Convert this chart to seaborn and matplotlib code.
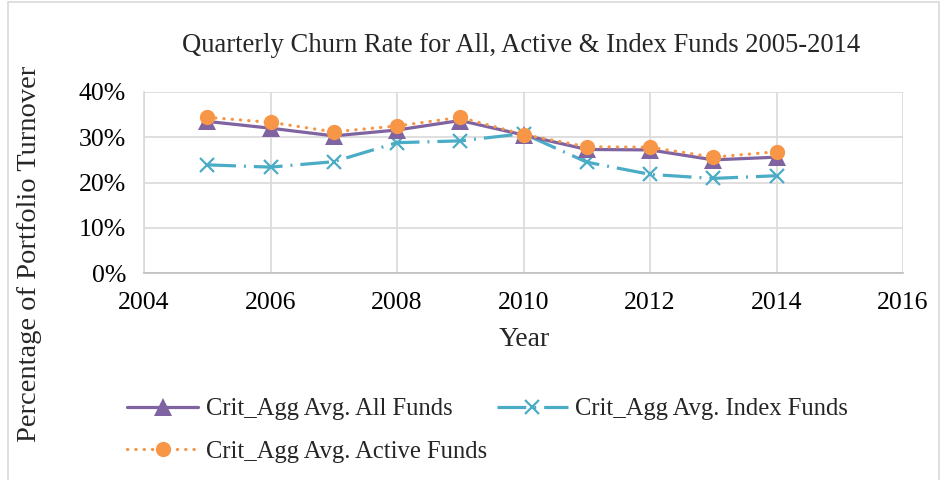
"""
Quarterly churn rate chart for all, active and index funds, 2005-2014.
"""

import matplotlib
matplotlib.use('Agg')
import matplotlib.pyplot as plt
import matplotlib.ticker as mticker
from matplotlib.patches import Rectangle
import pandas as pd
import seaborn as sns

sns.set_theme(style='white')
plt.rcParams['font.family'] = ['Liberation Serif', 'DejaVu Serif']

# Data
years = [2005, 2006, 2007, 2008, 2009, 2010, 2011, 2012, 2013, 2014]
all_funds = [0.335, 0.320, 0.303, 0.316, 0.337, 0.305, 0.273, 0.272, 0.250, 0.256]
index_funds = [0.239, 0.234, 0.246, 0.288, 0.292, 0.308, 0.245, 0.218, 0.209, 0.215]
active_funds = [0.344, 0.333, 0.312, 0.325, 0.344, 0.306, 0.279, 0.278, 0.256, 0.268]

labels = ['Crit_Agg Avg. All Funds', 'Crit_Agg Avg. Index Funds',
          'Crit_Agg Avg. Active Funds']
x_ticks = [2004, 2006, 2008, 2010, 2012, 2014, 2016]
y_ticks = [0.0, 0.1, 0.2, 0.3, 0.4]

PURPLE = '#8064A2'
TEAL = '#4BACC6'
ORANGE = '#F79646'
GRID = '#D9D9D9'


def main():
    df = pd.DataFrame({'year': years, 'all': all_funds,
                       'index': index_funds, 'active': active_funds})

    fig = plt.figure(figsize=(9.44, 4.8), dpi=100)
    ax = fig.add_axes([144 / 944, 1 - 273 / 480, 759 / 944, 181 / 480])

    sns.lineplot(ax=ax, x='year', y='all', data=df, color=PURPLE,
                 linewidth=2.3, marker='^', markersize=12.5,
                 markeredgewidth=0, label=labels[0], zorder=3)
    sns.lineplot(ax=ax, x='year', y='index', data=df, color=TEAL,
                 linewidth=2.3, linestyle=(0, (9, 2.5, 0.6, 2.5)),
                 marker='x', markersize=10, markeredgewidth=1.6,
                 markeredgecolor=TEAL, label=labels[1], zorder=2)
    sns.lineplot(ax=ax, x='year', y='active', data=df, color=ORANGE,
                 linewidth=2.3, linestyle=(0, (0.1, 2.5)),
                 dash_capstyle='round', marker='o', markersize=11,
                 markeredgewidth=0, label=labels[2], zorder=4)

    ax.set_xlim(2004, 2016)
    ax.set_ylim(0, 0.4)
    ax.set_xticks(x_ticks)
    ax.set_yticks(y_ticks)
    ax.yaxis.set_major_formatter(mticker.PercentFormatter(1.0, decimals=0))
    ax.grid(True, color=GRID, linewidth=1.2)
    ax.set_axisbelow(True)
    for side in ['top', 'right']:
        ax.spines[side].set_visible(False)
    ax.spines['left'].set_color(GRID)
    ax.spines['left'].set_linewidth(1.2)
    ax.spines['bottom'].set_color('#BFBFBF')
    ax.spines['bottom'].set_linewidth(1.2)
    ax.tick_params(axis='both', length=0, labelsize=18.5, colors='black')
    ax.tick_params(axis='y', pad=13)
    ax.tick_params(axis='x', pad=14)
    ax.set_xlabel('')
    ax.set_ylabel('')

    fig.text(521 / 944, 1 - 45 / 480,
             'Quarterly Churn Rate for All, Active & Index Funds 2005-2014',
             ha='center', va='center', fontsize=19.2)
    fig.text(524 / 944, 1 - 340 / 480, 'Year', ha='center', va='center',
             fontsize=20)
    fig.text(30 / 944, 1 - 254 / 480, 'Percentage of Portfolio Turnover',
             ha='center', va='center', rotation=90, fontsize=20.5)

    handles, _ = ax.get_legend_handles_labels()
    ax.get_legend().remove()
    order = [0, 2, 1]
    fig.legend([handles[i] for i in order], [labels[i] for i in order],
               loc='upper left', bbox_to_anchor=(127 / 944, 1 - 398 / 480),
               ncol=2, frameon=False, fontsize=17.7, handlelength=2.9,
               handletextpad=0.3, columnspacing=0.4, labelspacing=0.84,
               borderaxespad=0, borderpad=0)

    fig.patches.append(Rectangle((8 / 944, -0.05), 931 / 944, 1.045,
                                 transform=fig.transFigure, fill=False,
                                 edgecolor='#D9D9D9', linewidth=1.2))

    fig.savefig('out.png', dpi=100)


if __name__ == '__main__':
    main()
